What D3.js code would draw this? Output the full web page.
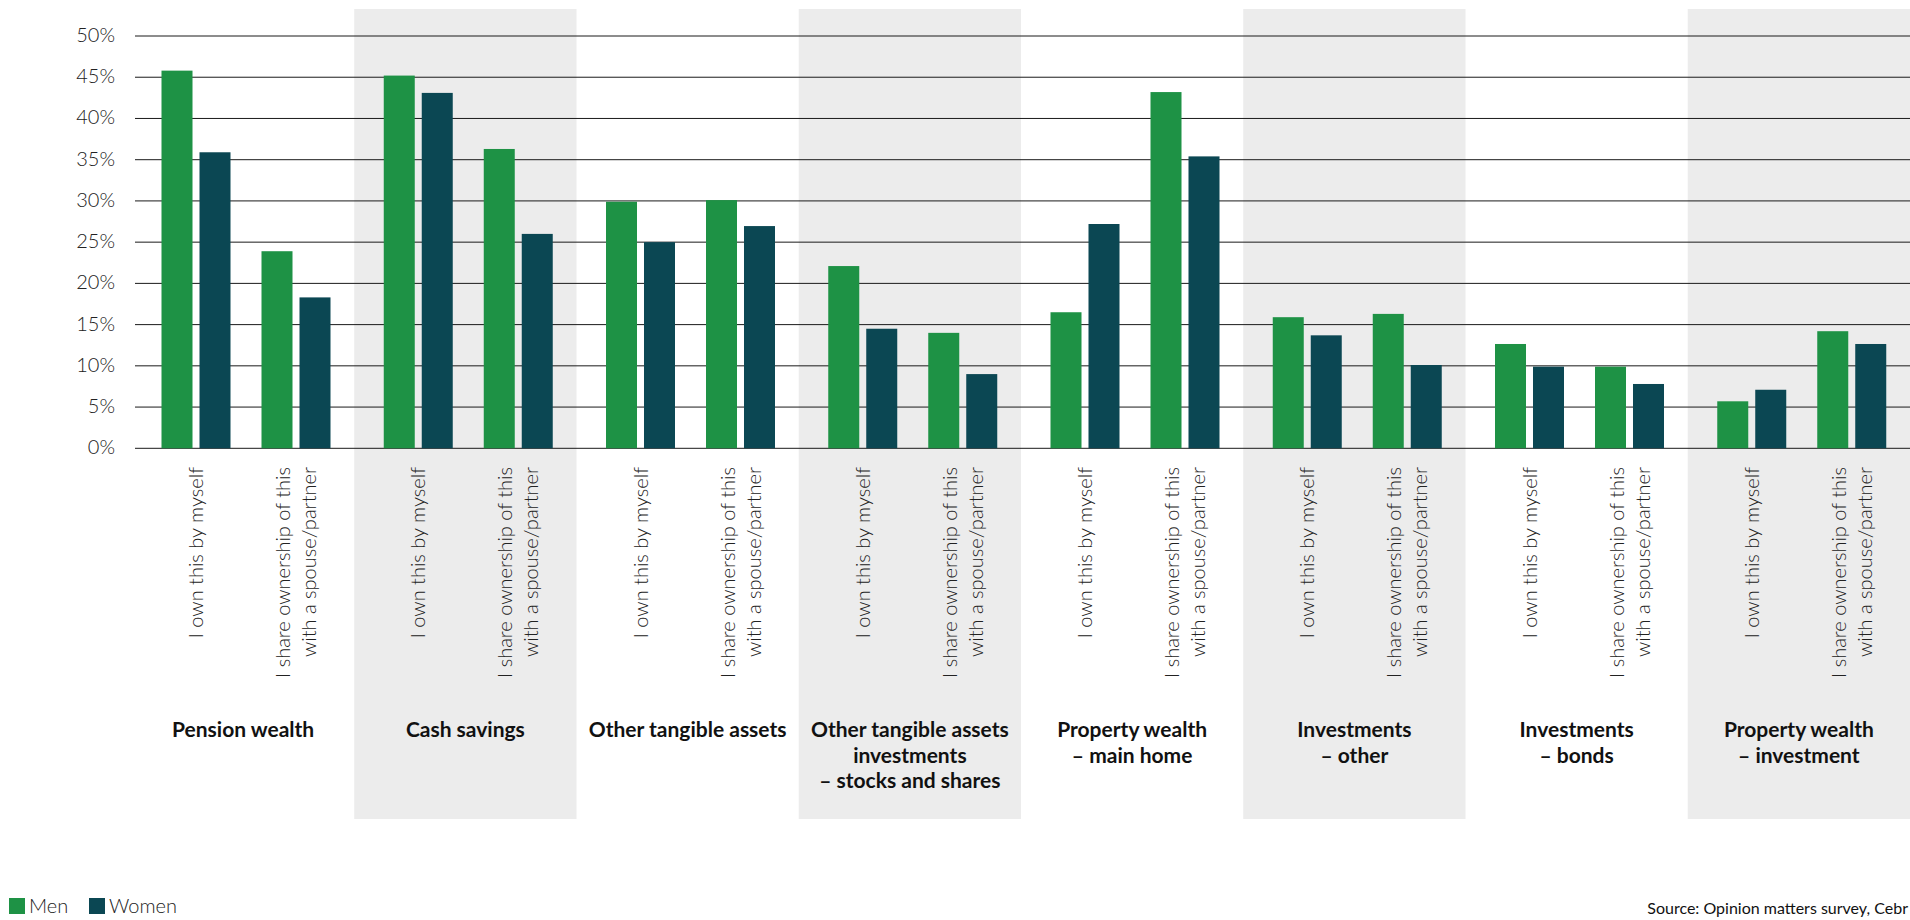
<!DOCTYPE html>
<html>
<head>
<meta charset="utf-8">
<script src="https://cdn.jsdelivr.net/npm/d3@7"></script>
<style>
  body { margin: 0; background: #fff; }
  svg { display: block; }
</style>
</head>
<body>
<svg id="chart" width="1910" height="920"></svg>
<script>
// asset groups, one label line per entry
var groups = [
  ["Pension wealth"],
  ["Cash savings"],
  ["Other tangible assets"],
  ["Other tangible assets", "investments", "\u2013 stocks and shares"],
  ["Property wealth", "\u2013 main home"],
  ["Investments", "\u2013 other"],
  ["Investments", "\u2013 bonds"],
  ["Property wealth", "\u2013 investment"]
];
var ownership = [
  ["I own this by myself"],
  ["I share ownership of this", "with a spouse/partner"]
];
var series = ["Men", "Women"];
// [own, share] per group
var men = [[45.8, 23.9], [45.2, 36.3], [29.9, 30.1], [22.1, 14.0], [16.5, 43.2], [15.9, 16.3], [12.65, 9.9], [5.7, 14.2]];
var women = [[35.9, 18.3], [43.1, 26.0], [25.0, 26.95], [14.5, 9.0], [27.2, 35.4], [13.7, 10.1], [9.9, 7.8], [7.1, 12.65]];
var yTicks = [0, 5, 10, 15, 20, 25, 30, 35, 40, 45, 50];
var source = "Source: Opinion matters survey, Cebr";

var colors = {Men: "#1e9245", Women: "#0b4753"};
var svg = d3.select("#chart");

var groupIdx = d3.range(groups.length);
var x0 = d3.scaleBand().domain(groupIdx).range([132, 1910]);
var x1 = d3.scaleBand().domain([0, 1]).range([14, 214]);
var x2 = d3.scaleBand().domain(series).range([15.5, 84.5]).paddingInner(0.184);
var y = d3.scaleLinear().domain([0, 50]).range([448.3, 36]);

// alternating shaded bands
svg.append("g").selectAll("rect")
  .data(groupIdx.filter(i => i % 2 == 1))
  .join("rect")
    .attr("x", d => x0(d))
    .attr("y", 9)
    .attr("width", x0.bandwidth())
    .attr("height", 810)
    .attr("fill", "#ececec");

// gridlines + tick labels
var yAxis = svg.append("g");
yAxis.selectAll("line")
  .data(yTicks)
  .join("line")
    .attr("x1", 135)
    .attr("x2", 1910)
    .attr("y1", d => y(d))
    .attr("y2", d => y(d))
    .attr("stroke", "#1a1a1a")
    .attr("stroke-width", 1);
yAxis.selectAll("text")
  .data(yTicks)
  .join("text")
    .attr("x", 115)
    .attr("y", d => y(d))
    .attr("dy", "0.3em")
    .attr("text-anchor", "end")
    .style("font", "300 20px Lato, sans-serif")
    .attr("fill", "#222")
    .text(d => d + "%");

// bars
var bars = [];
groupIdx.forEach(function(g) {
  [0, 1].forEach(function(s) {
    bars.push({g: g, s: s, key: "Men", v: men[g][s]});
    bars.push({g: g, s: s, key: "Women", v: women[g][s]});
  });
});
svg.append("g").selectAll("rect")
  .data(bars)
  .join("rect")
    .attr("x", d => x0(d.g) + x1(d.s) + x2(d.key))
    .attr("y", d => y(d.v))
    .attr("width", x2.bandwidth())
    .attr("height", d => y(0) - y(d.v))
    .attr("fill", d => colors[d.key]);

// rotated ownership labels
var subLabels = [];
groupIdx.forEach(function(g) {
  [0, 1].forEach(function(s) { subLabels.push({g: g, s: s}); });
});
svg.append("g").selectAll("text")
  .data(subLabels)
  .join("text")
    .attr("transform", d => "translate(" + (x0(d.g) + x1(d.s) + x1.bandwidth() / 2) + ",467) rotate(-90)")
    .attr("text-anchor", "end")
    .style("font", "300 20px Lato, sans-serif")
    .attr("fill", "#222")
    .each(function(d) {
      var lines = ownership[d.s];
      var t = d3.select(this);
      lines.forEach(function(l, i) {
        t.append("tspan")
          .attr("x", 0)
          .attr("y", (i - (lines.length - 1) / 2) * 26)
          .attr("dy", "0.35em")
          .text(l);
      });
    });

// group labels
svg.append("g").selectAll("text")
  .data(groupIdx)
  .join("text")
    .attr("text-anchor", "middle")
    .style("font", "700 21px Lato, sans-serif")
    .attr("fill", "#111")
    .each(function(g) {
      var t = d3.select(this);
      groups[g].forEach(function(l, i) {
        t.append("tspan")
          .attr("x", x0(g) + x0.bandwidth() / 2)
          .attr("y", 737 + i * 25.5)
          .text(l);
      });
    });

// legend
var legend = svg.append("g").selectAll("g")
  .data(series)
  .join("g")
    .attr("transform", (d, i) => "translate(" + (9 + i * 80) + ",898)");
legend.append("rect")
  .attr("width", 16)
  .attr("height", 16)
  .attr("fill", d => colors[d]);
legend.append("text")
  .attr("x", 20)
  .attr("y", 15)
  .style("font", "300 20px Lato, sans-serif")
  .attr("fill", "#222")
  .text(d => d);

svg.append("text")
  .attr("x", 1908)
  .attr("y", 914)
  .attr("text-anchor", "end")
  .style("font", "400 16px Lato, sans-serif")
  .attr("fill", "#111")
  .text(source);
</script>
</body>
</html>
